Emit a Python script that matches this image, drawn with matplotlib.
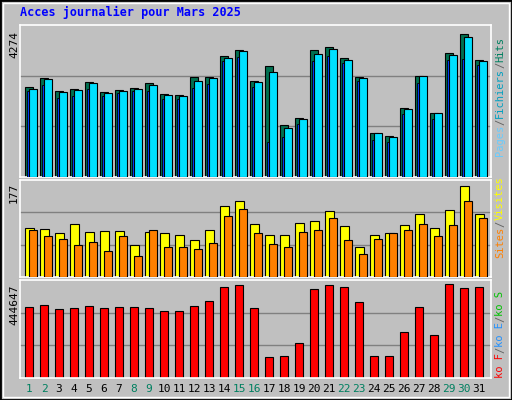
import matplotlib
matplotlib.use("Agg")
import matplotlib.pyplot as plt
import numpy as np

days = list(range(1, 32))
weekend = [1, 2, 8, 9, 15, 16, 22, 23, 29, 30]
hits = [2602,2855,2489,2546,2743,2461,2517,2574,2715,2405,2376,2884,2884,3504,3673,2771,3222,1503,1700,3673,3757,3447,2884,1277,1193,2010,2912,1841,3588,4152,3391]
files = [2546,2827,2461,2517,2715,2433,2489,2546,2658,2376,2348,2771,2855,3447,3645,2743,3053,1418,1672,3560,3701,3391,2855,1277,1165,1982,2912,1841,3532,4067,3363]
pages = [2489,2658,2292,2348,2546,2348,2433,2489,2489,2264,2264,2574,2686,3363,3475,2602,1024,1165,1531,3363,3504,3306,2771,1080,1024,1813,2715,1672,3391,3419,3250]
visits = [92,88.5,81,99.5,83,85,85,59,83,81,79,68,87,132,142,99.5,78,78,101,105,123,94,56,79,81,96,118,92,125,169,118]
sites = [87,76,70,59,65,48,76,39,87,56,56,52,63,114,127,81,61,56,83,87,110,68,43,70,81,87,99.5,76,96,142,109]
kbytes = [329900,339500,320300,325100,334700,325100,329900,329900,325100,310800,310800,334700,358600,425500,430300,325100,95600,100400,162600,416000,430300,425500,353800,100400,100400,215200,329900,200800,435100,420700,425500]
max_hits = 4274
max_visits = 177
max_kb = 444647

W, H = 512, 400
fig = plt.figure(figsize=(W/100, H/100), dpi=100)
fig.patch.set_facecolor('#c0c0c0')
mono = 'DejaVu Sans Mono'

def mkax(top, bot):
    ax = fig.add_axes([20/W, 1-bot/H, (491-20)/W, (bot-top)/H])
    ax.set_facecolor('#c0c0c0')
    ax.set_xlim(0.647, 32.05)
    ax.set_xticks([]); ax.set_yticks([])
    for s in ax.spines.values():
        s.set_color('white'); s.set_linewidth(1.2)
    return ax

x = np.array(days, dtype=float)
ec = dict(edgecolor='black', linewidth=0.8, align='edge')

ax1 = mkax(25, 177)
ax1.set_ylim(0, max_hits * 1.03)
for f in (1/3, 2/3):
    ax1.axhline(max_hits*1.03*f, color='#808080', lw=1, zorder=0)
ax1.bar(x, hits, 0.49, color='#007050', **ec, zorder=2)
ax1.bar(x+0.133, pages, 0.134, color='#0040ff', edgecolor='black', linewidth=0.6, align='edge', zorder=3)
ax1.bar(x+0.267, files, 0.49, color='#00e0ff', **ec, zorder=4)

ax2 = mkax(180, 277)
ax2.set_ylim(0, max_visits * 1.02)
for f in (1/3, 2/3):
    ax2.axhline(max_visits*1.02*f, color='#808080', lw=1, zorder=0)
ax2.bar(x, visits, 0.56, color='#ffff00', **ec, zorder=2)
ax2.bar(x+0.267, sites, 0.49, color='#ff8000', **ec, zorder=3)

ax3 = mkax(280, 378)
ax3.set_ylim(0, max_kb * 1.025)
for f in (1/3, 2/3):
    ax3.axhline(max_kb*1.025*f, color='#808080', lw=1, zorder=0)
ax3.bar(x, kbytes, 0.49, color='#ff0000', **ec, zorder=2)

for i, d in enumerate(days):
    px = 25.3 + 15*i + 3.7
    fig.text(px/W, 1-389/H, str(d), ha='center', va='center', fontsize=8,
             family=mono, color='#008060' if d in weekend else 'black')

fig.text(20/W, 1-12/H, 'Acces journalier pour Mars 2025', fontsize=8.5, weight='bold',
         family=mono, color='#0000ff', va='center')
fig.text(14/W, 1-45/H, str(max_hits), rotation=90, fontsize=8, family=mono, va='center', ha='center')
fig.text(14/W, 1-193/H, str(max_visits), rotation=90, fontsize=8, family=mono, va='center', ha='center')
fig.text(14/W, 1-305/H, str(max_kb), rotation=90, fontsize=8, family=mono, va='center', ha='center')

renderer = fig.canvas.get_renderer()

def vlabel(parts, xpx, ybot):
    y = ybot
    for txt, col in parts:
        t = fig.text(xpx/W, 1-y/H, txt, rotation=90, fontsize=7.5, family=mono, color=col,
                     ha='center', va='bottom')
        bb = t.get_window_extent(renderer)
        y -= bb.height

vlabel([('Pages', '#66ccff'), ('/', '#606060'), ('Fichiers', '#00a0c0'), ('/', '#606060'), ('Hits', '#008060')], 500, 156)
vlabel([('Sites', '#ff8000'), ('/', '#606060'), ('Visites', '#ffff00')], 500, 258)
vlabel([('ko F', '#ff0000'), ('/', '#606060'), ('ko E', '#2090ff'), ('/', '#606060'), ('ko S', '#00c000')], 500, 378)

fig.add_artist(plt.Rectangle((0, 0), 1, 1, transform=fig.transFigure, fill=False, edgecolor='black', lw=2))
fig.add_artist(plt.Rectangle((3/W, 3/H), 1-6/W, 1-6/H, transform=fig.transFigure, fill=False, edgecolor='white', lw=1))
fig.savefig('out.png', dpi=100, facecolor=fig.get_facecolor())
